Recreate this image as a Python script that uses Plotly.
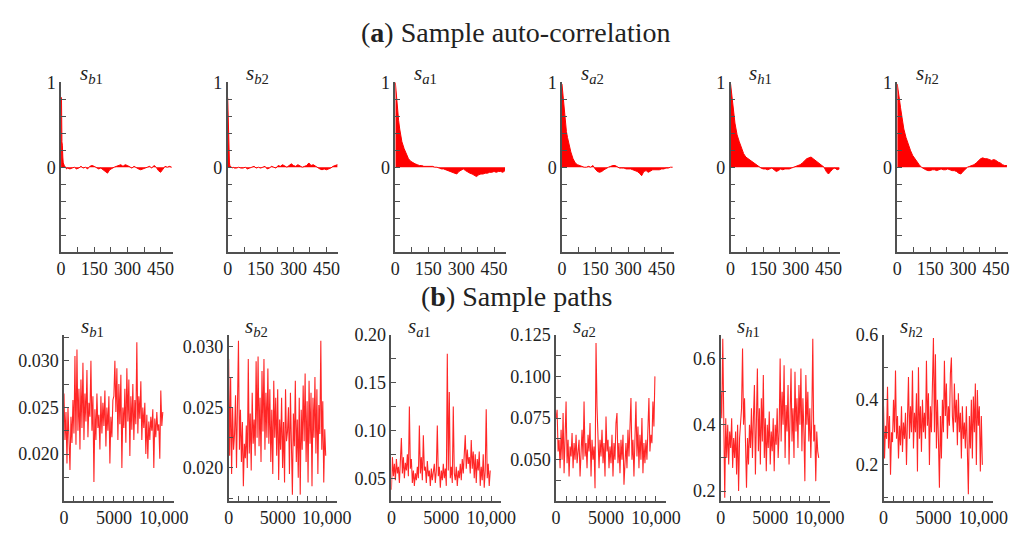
import plotly.graph_objects as go

# ---- (a) sample auto-correlation ----
lags = [0, 2, 4, 6, 8, 10, 15, 20, 25, 30, 40, 50, 60, 70, 80, 90, 100, 110, 120, 130,
        140, 150, 160, 170, 180, 190, 200, 210, 220, 230, 240, 250, 260, 270, 280, 290,
        300, 310, 320, 330, 340, 350, 360, 370, 380, 390, 400, 410, 420, 430, 440, 450,
        460, 470, 480, 490, 500]

acf_sb1 = [0.82, 0.82, 0.30, 0.26, 0.12, 0.05, 0.02, -0.01, -0.02, -0.01, -0.02, -0.01, 0.00,
           -0.02, -0.01, 0.01, -0.01, 0.00, -0.02, 0.01, 0.02, 0.01, -0.01, -0.02, -0.01,
           -0.03, -0.04, -0.07, -0.03, -0.01, 0.00, 0.01, 0.02, 0.03, 0.01, 0.03, 0.02,
           0.00, -0.01, 0.01, -0.01, -0.02, -0.03, -0.02, -0.01, 0.00, 0.01, -0.01, 0.02,
           0.00, -0.04, -0.06, -0.02, 0.01, 0.00, 0.01, 0.00]
acf_sb2 = [0.82, 0.55, 0.22, 0.12, 0.05, 0.02, 0.00, -0.01, 0.00, -0.01, -0.01, 0.00, -0.01,
           -0.01, 0.00, -0.02, -0.01, 0.00, 0.01, -0.01, 0.00, -0.01, 0.00, 0.01, -0.02,
           -0.01, 0.01, 0.00, -0.01, 0.02, 0.01, 0.03, 0.01, 0.00, 0.02, 0.04, 0.02, 0.01,
           0.03, 0.01, 0.00, 0.01, 0.02, 0.05, 0.02, 0.03, 0.01, 0.00, -0.02, -0.03, -0.02,
           -0.03, -0.02, -0.01, 0.01, 0.02, 0.03]
acf_sa1 = [1.00, 0.93, 0.86, 0.80, 0.74, 0.70, 0.55, 0.45, 0.38, 0.30, 0.22, 0.15, 0.10,
           0.07, 0.05, 0.04, 0.03, 0.02, 0.02, 0.01, 0.01, 0.01, 0.01, 0.01, 0.00, 0.00,
           -0.01, -0.02, -0.02, -0.03, -0.04, -0.05, -0.06, -0.07, -0.08, -0.05, -0.03,
           -0.02, -0.04, -0.06, -0.07, -0.08, -0.10, -0.11, -0.09, -0.08, -0.08, -0.07,
           -0.07, -0.06, -0.06, -0.05, -0.06, -0.05, -0.05, -0.06, -0.04]
acf_sa2 = [0.98, 0.92, 0.86, 0.78, 0.72, 0.65, 0.50, 0.42, 0.35, 0.28, 0.18, 0.10, 0.05,
           0.03, 0.02, 0.01, 0.00, 0.00, 0.01, 0.00, 0.02, -0.02, -0.05, -0.06, -0.05,
           -0.03, -0.01, 0.00, 0.01, 0.02, 0.02, 0.00, -0.01, -0.01, -0.01, -0.02, -0.02,
           -0.02, -0.03, -0.04, -0.05, -0.07, -0.10, -0.05, -0.04, -0.06, -0.04, -0.03,
           -0.03, -0.03, -0.03, -0.02, -0.02, -0.01, -0.01, 0.00, 0.00]
acf_sh1 = [0.98, 0.93, 0.88, 0.84, 0.78, 0.72, 0.60, 0.52, 0.45, 0.38, 0.30, 0.22, 0.16,
           0.12, 0.10, 0.08, 0.06, 0.04, 0.02, 0.00, -0.01, -0.02, -0.02, -0.03, -0.02,
           -0.01, -0.03, -0.05, -0.04, -0.02, -0.03, -0.02, -0.02, -0.02, -0.01, 0.00,
           0.01, 0.02, 0.03, 0.05, 0.08, 0.10, 0.11, 0.12, 0.10, 0.08, 0.06, 0.05, 0.02,
           0.00, -0.05, -0.08, -0.05, -0.02, -0.01, -0.03, -0.02]
acf_sh2 = [0.98, 0.95, 0.91, 0.87, 0.83, 0.80, 0.70, 0.60, 0.52, 0.45, 0.35, 0.27, 0.20,
           0.14, 0.10, 0.06, 0.03, 0.00, -0.02, -0.03, -0.04, -0.04, -0.03, -0.03, -0.04,
           -0.03, -0.02, -0.03, -0.03, -0.02, -0.03, -0.04, -0.04, -0.05, -0.07, -0.08,
           -0.05, -0.02, 0.00, 0.01, 0.02, 0.03, 0.05, 0.08, 0.10, 0.11, 0.10, 0.10, 0.09,
           0.08, 0.09, 0.08, 0.06, 0.05, 0.03, 0.02, 0.02]

# ---- (b) sample paths (every 100th iteration) ----
iterations = list(range(0, 10000, 100))

path_sb1 = [0.0265, 0.0215, 0.0245, 0.0190, 0.0250, 0.0225, 0.0183, 0.0240, 0.0212, 0.0258,
            0.0222, 0.0305, 0.0210, 0.0312, 0.0225, 0.0270, 0.0205, 0.0280, 0.0228, 0.0298,
            0.0215, 0.0265, 0.0235, 0.0290, 0.0218, 0.0255, 0.0240, 0.0300, 0.0225, 0.0262,
            0.0170, 0.0248, 0.0215, 0.0265, 0.0228, 0.0242, 0.0205, 0.0262, 0.0222, 0.0255,
            0.0230, 0.0268, 0.0208, 0.0250, 0.0225, 0.0262, 0.0190, 0.0240, 0.0218, 0.0258,
            0.0262, 0.0300, 0.0245, 0.0292, 0.0215, 0.0275, 0.0232, 0.0285, 0.0185, 0.0250,
            0.0228, 0.0270, 0.0212, 0.0292, 0.0235, 0.0280, 0.0198, 0.0262, 0.0226, 0.0275,
            0.0215, 0.0258, 0.0232, 0.0320, 0.0222, 0.0262, 0.0238, 0.0278, 0.0215, 0.0250,
            0.0228, 0.0255, 0.0200, 0.0242, 0.0195, 0.0235, 0.0215, 0.0240, 0.0225, 0.0248,
            0.0185, 0.0238, 0.0218, 0.0245, 0.0225, 0.0232, 0.0195, 0.0268, 0.0230, 0.0245]
path_sb2 = [0.0290, 0.0210, 0.0275, 0.0195, 0.0250, 0.0215, 0.0228, 0.0260, 0.0200, 0.0272,
            0.0305, 0.0215, 0.0248, 0.0205, 0.0238, 0.0185, 0.0220, 0.0208, 0.0235, 0.0200,
            0.0290, 0.0212, 0.0245, 0.0198, 0.0262, 0.0220, 0.0240, 0.0210, 0.0288, 0.0225,
            0.0292, 0.0218, 0.0258, 0.0205, 0.0280, 0.0230, 0.0290, 0.0215, 0.0262, 0.0225,
            0.0282, 0.0220, 0.0265, 0.0205, 0.0248, 0.0195, 0.0272, 0.0225, 0.0258, 0.0210,
            0.0265, 0.0190, 0.0240, 0.0215, 0.0258, 0.0200, 0.0238, 0.0188, 0.0265, 0.0222,
            0.0230, 0.0250, 0.0195, 0.0262, 0.0210, 0.0178, 0.0245, 0.0218, 0.0272, 0.0205,
            0.0240, 0.0192, 0.0258, 0.0178, 0.0248, 0.0215, 0.0268, 0.0222, 0.0278, 0.0205,
            0.0255, 0.0188, 0.0272, 0.0220, 0.0262, 0.0185, 0.0258, 0.0225, 0.0275, 0.0212,
            0.0265, 0.0195, 0.0252, 0.0228, 0.0305, 0.0215, 0.0255, 0.0188, 0.0232, 0.0210]
path_sa1 = [0.038, 0.072, 0.052, 0.065, 0.048, 0.070, 0.055, 0.062, 0.045, 0.068,
            0.092, 0.055, 0.072, 0.050, 0.066, 0.058, 0.075, 0.052, 0.125, 0.060,
            0.070, 0.045, 0.058, 0.042, 0.055, 0.048, 0.062, 0.050, 0.105, 0.055,
            0.072, 0.048, 0.095, 0.058, 0.062, 0.045, 0.068, 0.052, 0.058, 0.042,
            0.060, 0.048, 0.055, 0.065, 0.045, 0.058, 0.105, 0.052, 0.062, 0.040,
            0.058, 0.048, 0.065, 0.050, 0.060, 0.042, 0.180, 0.058, 0.140, 0.050,
            0.062, 0.045, 0.125, 0.055, 0.048, 0.062, 0.042, 0.058, 0.050, 0.065,
            0.048, 0.070, 0.055, 0.075, 0.095, 0.060, 0.080, 0.065, 0.072, 0.055,
            0.090, 0.060, 0.078, 0.050, 0.075, 0.045, 0.070, 0.058, 0.078, 0.042,
            0.062, 0.048, 0.075, 0.040, 0.058, 0.122, 0.050, 0.065, 0.042, 0.058]
path_sa2 = [0.075, 0.080, 0.055, 0.062, 0.045, 0.068, 0.050, 0.078, 0.042, 0.060,
            0.085, 0.048, 0.062, 0.040, 0.058, 0.052, 0.066, 0.045, 0.060, 0.050,
            0.065, 0.048, 0.058, 0.062, 0.040, 0.055, 0.068, 0.050, 0.085, 0.052,
            0.060, 0.045, 0.065, 0.055, 0.072, 0.040, 0.062, 0.050, 0.058, 0.033,
            0.120, 0.082, 0.058, 0.045, 0.062, 0.052, 0.068, 0.048, 0.060, 0.040,
            0.076, 0.055, 0.062, 0.045, 0.058, 0.048, 0.065, 0.040, 0.060, 0.050,
            0.072, 0.078, 0.048, 0.060, 0.042, 0.062, 0.050, 0.065, 0.035, 0.055,
            0.060, 0.045, 0.068, 0.052, 0.075, 0.087, 0.050, 0.062, 0.040, 0.058,
            0.085, 0.052, 0.070, 0.045, 0.065, 0.050, 0.075, 0.042, 0.060, 0.048,
            0.062, 0.050, 0.070, 0.087, 0.055, 0.065, 0.060, 0.085, 0.070, 0.100]
path_sh1 = [0.50, 0.42, 0.66, 0.35, 0.18, 0.42, 0.30, 0.40, 0.28, 0.38,
            0.33, 0.42, 0.27, 0.36, 0.30, 0.38, 0.25, 0.40, 0.20, 0.36,
            0.40, 0.45, 0.63, 0.40, 0.48, 0.30, 0.21, 0.36, 0.28, 0.40,
            0.33, 0.45, 0.30, 0.42, 0.52, 0.25, 0.38, 0.57, 0.32, 0.45,
            0.28, 0.48, 0.35, 0.55, 0.30, 0.42, 0.26, 0.40, 0.33, 0.44,
            0.28, 0.38, 0.32, 0.42, 0.26, 0.40, 0.34, 0.45, 0.30, 0.38,
            0.60, 0.35, 0.50, 0.40, 0.58, 0.30, 0.46, 0.38, 0.52, 0.28,
            0.42, 0.57, 0.35, 0.45, 0.30, 0.56, 0.38, 0.48, 0.33, 0.52,
            0.40, 0.57, 0.32, 0.48, 0.38, 0.23, 0.55, 0.40, 0.50, 0.35,
            0.45, 0.30, 0.42, 0.66, 0.35, 0.40, 0.23, 0.38, 0.32, 0.30]
path_sh2 = [0.38, 0.22, 0.32, 0.28, 0.44, 0.25, 0.35, 0.17, 0.30, 0.27,
            0.40, 0.30, 0.49, 0.28, 0.35, 0.22, 0.32, 0.26, 0.38, 0.24,
            0.33, 0.28, 0.36, 0.20, 0.34, 0.47, 0.28, 0.38, 0.30, 0.49,
            0.25, 0.36, 0.30, 0.42, 0.18, 0.50, 0.28, 0.38, 0.24, 0.40,
            0.30, 0.36, 0.28, 0.52, 0.32, 0.42, 0.20, 0.38, 0.30, 0.45,
            0.59, 0.30, 0.54, 0.25, 0.40, 0.28, 0.13, 0.35, 0.22, 0.40,
            0.30, 0.52, 0.35, 0.45, 0.28, 0.38, 0.32, 0.48, 0.53, 0.35,
            0.30, 0.45, 0.33, 0.40, 0.26, 0.42, 0.30, 0.36, 0.22, 0.38,
            0.28, 0.33, 0.25, 0.38, 0.20, 0.11, 0.35, 0.25, 0.40, 0.22,
            0.41, 0.30, 0.45, 0.20, 0.43, 0.32, 0.38, 0.18, 0.35, 0.20]

labels = ["<i>s</i><sub><i>b</i>1</sub>", "<i>s</i><sub><i>b</i>2</sub>",
          "<i>s</i><sub><i>a</i>1</sub>", "<i>s</i><sub><i>a</i>2</sub>",
          "<i>s</i><sub><i>h</i>1</sub>", "<i>s</i><sub><i>h</i>2</sub>"]
acfs = [acf_sb1, acf_sb2, acf_sa1, acf_sa2, acf_sh1, acf_sh2]
paths = [path_sb1, path_sb2, path_sa1, path_sa2, path_sh1, path_sh2]

# y ranges / ticks of the sample-path panels
path_ranges = [[0.0150, 0.0328], [0.0173, 0.0310], [0.0265, 0.200],
               [0.0255, 0.125], [0.171, 0.672], [0.090, 0.600]]
path_minor = [0.0025, 0.0025, 0.025, 0.0125, 0.1, 0.1]
path_labels = [[0.020, 0.025, 0.030], [0.020, 0.025, 0.030], [0.05, 0.10, 0.15, 0.20],
               [0.050, 0.075, 0.100, 0.125], [0.2, 0.4, 0.6], [0.2, 0.4, 0.6]]
path_fmt = ["{:.3f}", "{:.3f}", "{:.2f}", "{:.3f}", "{:.1f}", "{:.1f}"]

# page is 1032x536, body has an 8px margin -> figure is 1016x520
W, H, M = 1016, 520, 8


def px(x):
    return (x - M) / W


def py(y):
    return 1 - (y - M) / H


top_x = [(57, 171), (227, 340), (398, 511), (568, 682), (740, 852), (910, 1023)]
bot_x = [(60, 172), (228, 338), (394, 506), (562, 674), (730, 841), (896, 1008)]
top_y = (75, 252)
bot_y = (338, 511)

FONT = "Liberation Serif"
AX = "#505050"
TXT = "#222222"

fig = go.Figure()
layout = dict(width=W, height=H, margin=dict(l=0, r=0, t=0, b=0),
              paper_bgcolor="white", plot_bgcolor="white", showlegend=False,
              font=dict(family=FONT, size=18, color=TXT))
annotations = []


def axis_common():
    return dict(showgrid=False, zeroline=False, showline=True, linecolor=AX, linewidth=1.5,
                ticks="inside", tickcolor=AX, tickwidth=1.2, ticklen=5,
                tickfont=dict(family=FONT, size=18, color=TXT))


x_tick_vals = [0, 75, 150, 225, 300, 375, 450]
x_tick_text = ["0", "", "150", "", "300", "", "450"]
y_tick_vals = [-1, -0.8, -0.6, -0.4, -0.2, 0, 0.2, 0.4, 0.6, 0.8, 1]
y_tick_text = ["" if v not in (0, 1) else str(v) for v in y_tick_vals]

for i in range(6):
    n = i + 1
    xa, ya = "x%d" % n, "y%d" % n
    fig.add_trace(go.Scatter(x=lags, y=acfs[i], mode="lines", fill="tozeroy",
                             fillcolor="red", line=dict(color="red", width=1),
                             xaxis=xa, yaxis=ya))
    ax = axis_common()
    ax.update(domain=[px(top_x[i][0]), px(top_x[i][1])], anchor=ya, range=[0, 505],
              tickvals=x_tick_vals, ticktext=x_tick_text)
    ay = axis_common()
    ay.update(domain=[py(top_y[1]), py(top_y[0])], anchor=xa, range=[-1, 1],
              tickvals=y_tick_vals, ticktext=y_tick_text)
    layout["xaxis" if n == 1 else "xaxis%d" % n] = ax
    layout["yaxis" if n == 1 else "yaxis%d" % n] = ay
    annotations.append(dict(x=px(top_x[i][0] + 17), y=py(66), xref="paper", yref="paper",
                            text=labels[i], showarrow=False, xanchor="left", yanchor="middle",
                            font=dict(family=FONT, size=21, color=TXT)))

for i in range(6):
    n = i + 7
    xa, ya = "x%d" % n, "y%d" % n
    fig.add_trace(go.Scatter(x=iterations, y=paths[i], mode="lines",
                             line=dict(color="rgba(255,0,0,0.85)", width=1.1),
                             xaxis=xa, yaxis=ya))
    ax = axis_common()
    ax.update(domain=[px(bot_x[i][0]), px(bot_x[i][1])], anchor=ya, range=[0, 11000],
              tickvals=list(range(0, 11000, 1000)),
              ticktext=["0", "", "", "", "", "5000", "", "", "", "", "10,000"])
    lo, hi = path_ranges[i]
    step = path_minor[i]
    vals = []
    k = int(lo / step) + 1
    while k * step <= hi + 1e-9:
        vals.append(round(k * step, 5))
        k += 1
    txt = []
    for v in vals:
        txt.append(path_fmt[i].format(v) if any(abs(v - l) < 1e-6 for l in path_labels[i]) else "")
    ay = axis_common()
    ay.update(domain=[py(bot_y[1]), py(bot_y[0])], anchor=xa, range=[lo, hi],
              tickvals=vals, ticktext=txt)
    layout["xaxis%d" % n] = ax
    layout["yaxis%d" % n] = ay
    annotations.append(dict(x=px(bot_x[i][0] + 15), y=py(330), xref="paper", yref="paper",
                            text=labels[i], showarrow=False, xanchor="left", yanchor="middle",
                            font=dict(family=FONT, size=21, color=TXT)))

annotations.append(dict(x=px(521), y=py(23), xref="paper", yref="paper",
                        text="(<b>a</b>) Sample auto-correlation", showarrow=False,
                        xanchor="center", yanchor="middle",
                        font=dict(family=FONT, size=28, color=TXT)))
annotations.append(dict(x=px(522), y=py(298), xref="paper", yref="paper",
                        text="(<b>b</b>) Sample paths", showarrow=False,
                        xanchor="center", yanchor="middle",
                        font=dict(family=FONT, size=28, color=TXT)))
layout["annotations"] = annotations
fig.update_layout(**layout)
fig.write_html("out.html", config={"displayModeBar": False})
